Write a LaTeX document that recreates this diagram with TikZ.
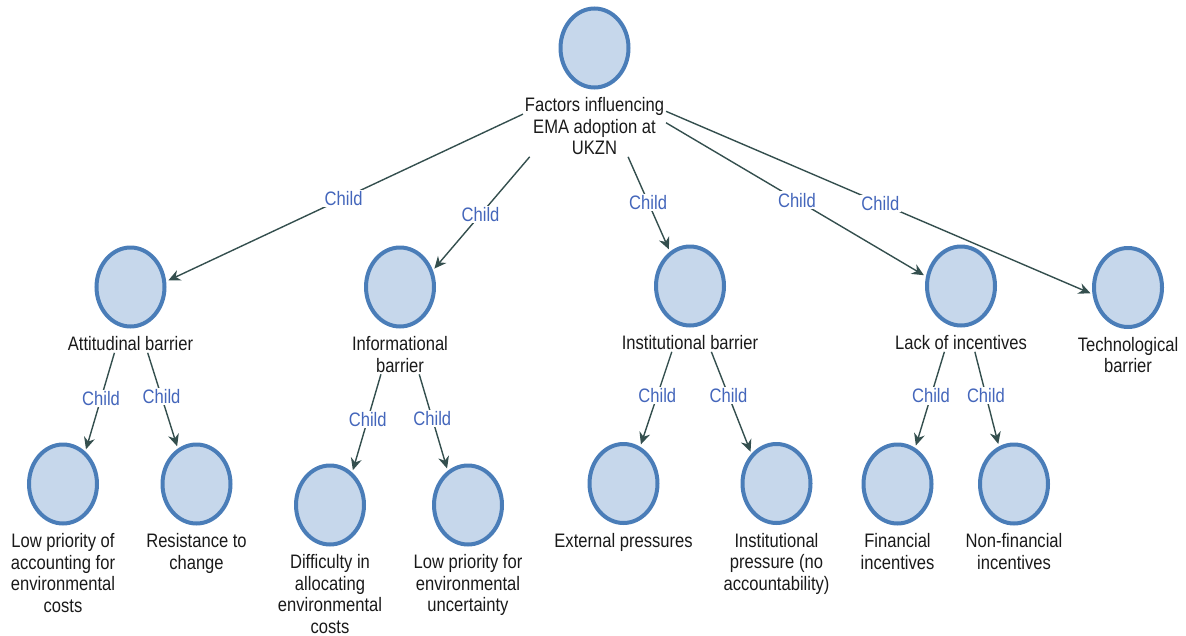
\documentclass[tikz,border=0pt]{standalone}
\usepackage{fontspec}
\setmainfont{Liberation Sans}[FakeStretch=0.85]
\usetikzlibrary{arrows.meta,positioning,fit,shapes.geometric,intersections}

\definecolor{bubblefill}{HTML}{C6D7EB}
\definecolor{bubbleline}{HTML}{4A7DB8}
\definecolor{edgecol}{HTML}{344F4E}
\definecolor{childblue}{HTML}{4466BB}
\definecolor{txt}{HTML}{1A1A1A}

\tikzset{
  bubble/.style={ellipse, draw=bubbleline, fill=bubblefill, line width=4pt,
    minimum width=68pt, minimum height=79pt, inner sep=0pt},
  lbl/.style={align=center, inner sep=0pt, outer sep=0pt,
    font=\fontsize{19.5}{21.5}\selectfont, text=txt},
  grp/.style={inner sep=0pt, outer sep=2pt},
  edge/.style={draw=edgecol, line width=1.4pt,
    -{Stealth[length=12pt,width=11pt]}, shorten >=4.5pt},
  rel/.style={fill=white, inner sep=1.5pt, text=childblue,
    font=\fontsize{19.5}{21.5}\selectfont},
}

% one topic: a bubble, its caption below, an invisible box around both,
% and the bubble's rim as a named path for the incoming link
\newcommand\bubbletopic[3]{%
  \node[bubble] (#1) at (#2) {};
  \node[lbl, below=8pt of #1] (#1-t) {#3};
  \node[grp, fit=(#1)(#1-t)] (#1-g) {};
  \path[name path=#1-rim] (#1.center) ellipse [x radius=34pt, y radius=39.5pt];
}

% link aimed from the parent's box centre to the child's box centre,
% stopping at the child's bubble; optional argument places the label
\newcommand\childlink[3][0.5]{%
  \path[name path=lnk] (#2-g.center) -- (#3-g.center);
  \path[name intersections={of=lnk and #3-rim, sort by=lnk, by={#3-in}}];
  \draw[edge] (#2-g) -- (#3-in) node[rel, pos=#1] {Child};
}

\begin{document}
\begin{tikzpicture}[x=1pt, y=-1pt]
\useasboundingbox (0,0) rectangle (1186,635);

% root
\bubbletopic{root}{594.5,48}{Factors influencing\\EMA adoption at\\UKZN}

% barriers
\bubbletopic{att}{130.5,287}{Attitudinal barrier}
\bubbletopic{inf}{400,287}{Informational\\barrier}
\bubbletopic{ins}{690,286}{Institutional barrier}
\bubbletopic{lack}{961,286}{Lack of incentives}
\bubbletopic{tech}{1128,287.5}{Technological\\barrier}

% sub-factors
\bubbletopic{lowp}{63,484}{Low priority of\\accounting for\\environmental\\costs}
\bubbletopic{res}{196.5,484}{Resistance to\\change}
\bubbletopic{diff}{330,505}{Difficulty in\\allocating\\environmental\\costs}
\bubbletopic{lowu}{468,505}{Low priority for\\environmental\\uncertainty}
\bubbletopic{ext}{623.5,483.5}{External pressures}
\bubbletopic{ipr}{776.5,483.5}{Institutional\\pressure (no\\accountability)}
\bubbletopic{fin}{897.5,484}{Financial\\incentives}
\bubbletopic{nonf}{1014,484}{Non-financial\\incentives}

% links
\childlink{root}{att}
\childlink{root}{inf}
\childlink[0.47]{root}{ins}
\childlink{root}{lack}
\childlink{root}{tech}

\childlink[0.45]{att}{lowp}
\childlink[0.45]{att}{res}
\childlink[0.45]{inf}{diff}
\childlink[0.45]{inf}{lowu}
\childlink[0.45]{ins}{ext}
\childlink[0.42]{ins}{ipr}
\childlink[0.45]{lack}{fin}
\childlink[0.45]{lack}{nonf}
\end{tikzpicture}
\end{document}
